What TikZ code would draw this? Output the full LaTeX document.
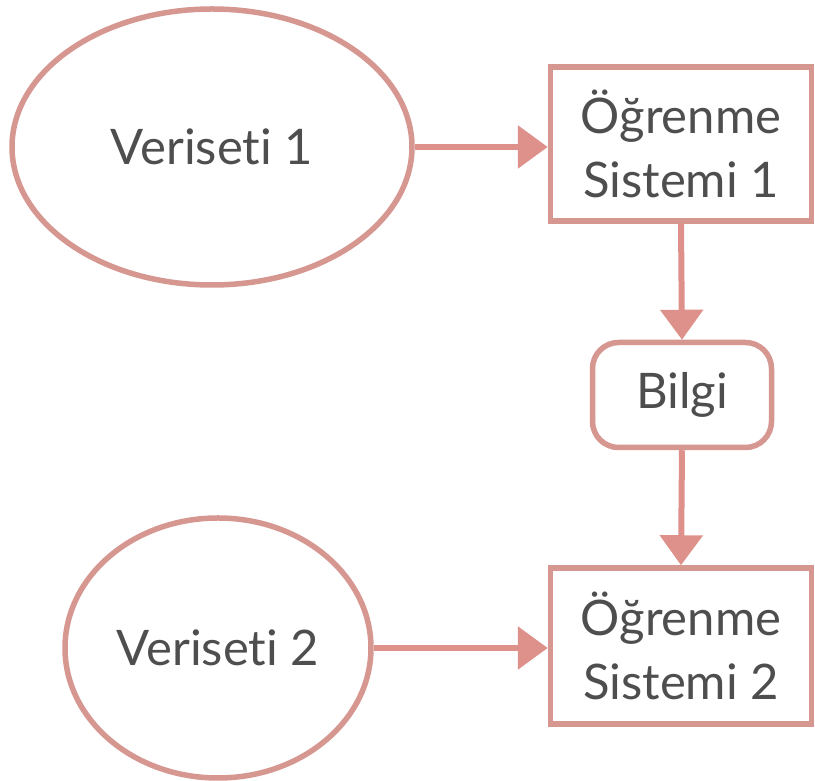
\documentclass[tikz,border=0pt]{standalone}
\usepackage{fontspec}
\setmainfont{Lato}[Ligatures={NoCommon,NoRare}]
\usetikzlibrary{shapes.geometric,arrows.meta}
\definecolor{edge}{HTML}{D59790}
\definecolor{arrowc}{HTML}{DE918A}
\definecolor{txt}{HTML}{4E4E4E}
\tikzset{
  base/.style={draw=edge, line width=5.5pt, fill=white, text=txt, font=\fontsize{49}{64}\selectfont, align=center, inner sep=0pt},
  oval/.style={base, ellipse},
  sysbox/.style={base, rectangle, minimum width=261pt, minimum height=154pt},
  infobox/.style={base, rectangle, rounded corners=26pt, minimum width=179pt, minimum height=105pt},
  conn/.style={draw=arrowc, line width=6pt, -{Triangle[length=30pt,width=42pt]}},
}
\begin{document}
\begin{tikzpicture}[x=1pt,y=1pt]
\useasboundingbox (0,0) rectangle (815,781);
\node[oval, minimum width=400pt, minimum height=276pt] (e1) at (212,634) {Veriseti 1};
\node[sysbox] (b1) at (681,637) {Öğrenme\\Sistemi 1};
\node[infobox] (bi) at (682,386) {Bilgi};
\node[oval, minimum width=306pt, minimum height=260pt] (e2) at (218,133) {Veriseti 2};
\node[sysbox, minimum height=156pt] (b2) at (681,135) {Öğrenme\\Sistemi 2};
\draw[conn] (e1.east) -- (e1.east -| b1.west);
\draw[conn] (e2.east) -- (e2.east -| b2.west);
\draw[conn] (b1.south) -- (bi.north);
\draw[conn] (bi.south) -- (b2.north);
\end{tikzpicture}
\end{document}
